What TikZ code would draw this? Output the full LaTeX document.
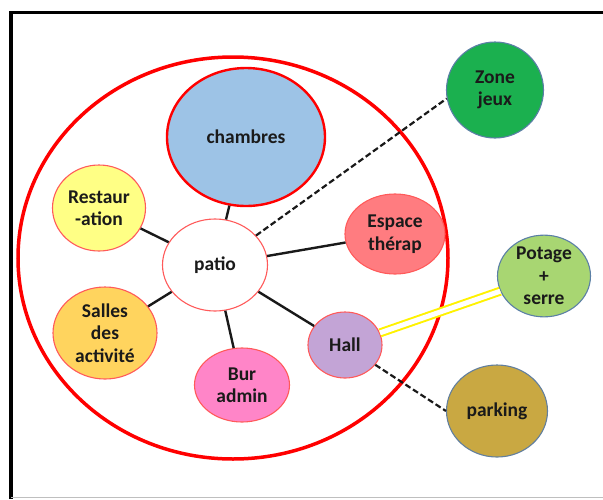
\documentclass[tikz,border=0pt]{standalone}
\usepackage{fontspec}
\setmainfont{Carlito}
\usetikzlibrary{shapes.geometric}
\definecolor{cham}{HTML}{9DC3E6}
\definecolor{rest}{HTML}{FFFF85}
\definecolor{sall}{HTML}{FFD45E}
\definecolor{espa}{HTML}{FF7C80}
\definecolor{hall}{HTML}{C3A4D6}
\definecolor{bura}{HTML}{FF85C8}
\definecolor{zone}{HTML}{1BB04F}
\definecolor{pota}{HTML}{A8D672}
\definecolor{park}{HTML}{C9A842}
\definecolor{txt}{HTML}{1A1A1A}
\definecolor{bred}{HTML}{FF0000}
\definecolor{lred}{HTML}{FF5A5A}
\definecolor{bblue}{HTML}{5B7FA6}
\tikzset{
  room/.style={ellipse, draw=lred, line width=1.1pt, inner sep=0pt,
    text=txt, align=center, font=\bfseries\fontsize{19.5}{22.5}\selectfont},
  link/.style={black!90, line width=2.4pt},
  dlink/.style={black!90, line width=2.2pt, dash pattern=on 6pt off 3pt},
  ylink/.style={draw=yellow, line width=2pt, double=white, double distance=5pt}
}
\begin{document}
\begin{tikzpicture}[x=1pt,y=-1pt]
\useasboundingbox (0,0) rectangle (603,499);
% frame
\draw[black, line width=3.5pt] (11,499) -- (11,12.5) -- (603,12.5);
\draw[gray!50, line width=1pt] (11,497.5) -- (603,497.5);
% big circle
\draw[bred, line width=3.5pt] (233,258) ellipse [x radius=215, y radius=201];
% nodes
\node[room, draw=bred, line width=2.4pt, fill=cham, minimum width=158pt, minimum height=138pt] (chambres) at (246,137) {chambres};
\node[room, fill=rest, minimum width=93pt, minimum height=86pt] (restau) at (99,208) {Restaur\\-ation};
\node[room, fill=sall, minimum width=104pt, minimum height=92pt] (salles) at (105,333) {Salles\\des\\activité};
\node[room, fill=white, minimum width=105pt, minimum height=92pt] (patio) at (215,265) {patio};
\node[room, fill=espa, minimum width=100pt, minimum height=80pt] (espace) at (395,234) {Espace\\thérap};
\node[room, fill=hall, minimum width=74pt, minimum height=66pt] (hall) at (345,345) {Hall};
\node[room, fill=bura, minimum width=95pt, minimum height=74pt] (bur) at (242,385) {Bur\\admin};
\node[room, draw=bblue, fill=zone, minimum width=97pt, minimum height=96pt] (zone) at (495,90) {Zone\\jeux};
\node[room, draw=bblue, fill=pota, minimum width=93pt, minimum height=76pt] (potage) at (544,276) {Potage\\+\\serre};
\node[room, draw=bblue!80!gray, fill=park, minimum width=101pt, minimum height=92pt] (parking) at (497,411) {parking};
% connectors
\draw[link] (chambres) -- (patio);
\draw[link] (restau) -- (patio);
\draw[link] (salles) -- (patio);
\draw[link] (patio) -- (espace);
\draw[link] (patio) -- (bur);
\draw[link] (patio) -- (hall);
\draw[dlink] (patio) -- (zone.190);
\draw[dlink] (hall) -- (parking.west);
\draw[ylink] (hall) -- (potage);
\end{tikzpicture}
\end{document}
